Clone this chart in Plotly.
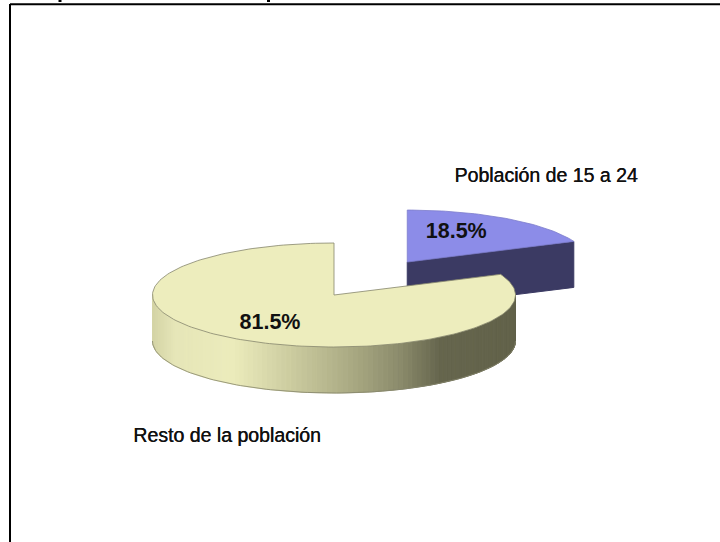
import numpy as np
import plotly.graph_objects as go

# data
labels = ["Población de 15 a 24", "Resto de la población"]
shares = [18.5, 81.5]

# pie geometry, in pixels (the axes below run 1 unit = 1 px)
CX, CY = 334.0, 295.0
RX, RY = 181.5, 52.0
DEPTH = 46.0
EXPLODE = 0.735
LIFT = 1.0

TOP_SMALL = "#8C8CE8"
SIDE_SMALL = "#3B3A63"
TOP_BIG = "#EDEDBD"
EDGE = "#85856C"

# wall shading of the big slice: position across the pie (0..1) => colour
wall_pos = [0.0, 0.06, 0.22, 0.38, 0.52, 0.68, 0.79, 1.0]
wall_rgb = [(212, 212, 166), (230, 230, 184), (236, 236, 188), (204, 204, 160),
            (176, 176, 136), (140, 140, 108), (102, 102, 78), (98, 98, 74)]


def ellipse(theta, cx, cy):
    # theta in degrees, clockwise from 12 o'clock
    t = np.radians(theta)
    return cx + RX * np.sin(t), cy - RY * np.cos(t)


def poly(x, y, fill, line=None, width=1):
    return go.Scatter(x=list(x) + [x[0]], y=list(y) + [y[0]], mode="lines", fill="toself",
                      fillcolor=fill, line=dict(color=line or fill, width=width),
                      hoverinfo="skip", showlegend=False)


def wall_color(x):
    p = (x - (CX - RX)) / (2 * RX)
    rgb = [np.interp(p, wall_pos, [c[i] for c in wall_rgb]) for i in range(3)]
    return "rgb(%d,%d,%d)" % tuple(rgb)


fig = go.Figure()

split = shares[0] / sum(shares) * 360

# exploded slice, moved out along its middle angle
mid = split / 2
sx = CX + EXPLODE * RX * np.sin(np.radians(mid))
sy = CY - EXPLODE * RY * np.cos(np.radians(mid)) - LIFT
ex, ey = ellipse(split, sx, sy)
fig.add_trace(poly([sx, ex, ex, sx], [sy, ey, ey + DEPTH, sy + DEPTH], SIDE_SMALL))
arc = np.linspace(0, split, 50)
ax, ay = ellipse(arc, sx, sy)
fig.add_trace(poly([sx, *ax], [sy, *ay], TOP_SMALL, "#7C7CCC", 0.8))

# big slice wall: thin strips so the shading can change along the rim
front = np.linspace(split, 360, 181)
for a0, a1 in zip(front[:-1], front[1:]):
    # only the near half of the rim shows
    if np.cos(np.radians((a0 + a1) / 2)) > 0.02:
        continue
    x0, y0 = ellipse(a0, CX, CY)
    x1, y1 = ellipse(a1, CX, CY)
    fig.add_trace(poly([x0, x1, x1, x0], [y0, y1, y1 + DEPTH, y0 + DEPTH],
                       wall_color((x0 + x1) / 2)))

# rim outline of the wall
rim = np.linspace(90, 270, 120)
rx_, ry_ = ellipse(rim, CX, CY + DEPTH)
fig.add_trace(go.Scatter(x=rx_, y=ry_, mode="lines", line=dict(color=EDGE, width=0.8),
                         hoverinfo="skip", showlegend=False))

# big slice top
arc = np.linspace(split, 360, 200)
ax, ay = ellipse(arc, CX, CY)
fig.add_trace(poly([CX, *ax], [CY, *ay], TOP_BIG, EDGE, 0.8))

# percentage labels
fig.add_trace(go.Scatter(x=[sx + 49, CX - 64], y=[sy - 29, CY + 29], mode="text",
                         text=["%.1f%%" % s for s in shares],
                         textfont=dict(family="Liberation Sans", size=21.5, color="#111111", weight="bold"),
                         textposition="middle center", hoverinfo="skip", showlegend=False))

# category labels: regular weight thickened a little, the original is a soft semi-bold
fig.add_trace(go.Scatter(x=[546, 227], y=[177, 437], mode="text", text=labels,
                         textfont=dict(family="Liberation Sans", size=19.5, color="#111111",
                                       shadow="0.4px 0 0 #111111"),
                         textposition="middle center", hoverinfo="skip", showlegend=False))

fig.update_layout(
    width=720, height=542, margin=dict(l=0, r=0, t=0, b=0),
    paper_bgcolor="white", plot_bgcolor="white", showlegend=False,
    xaxis=dict(range=[0, 720], visible=False, fixedrange=True),
    yaxis=dict(range=[542, 0], visible=False, fixedrange=True),
    shapes=[
        # slide frame, top and left only
        dict(type="line", x0=10, x1=720, y0=4.3, y1=4.3, line=dict(color="black", width=2)),
        dict(type="line", x0=10, x1=10, y0=4, y1=542, line=dict(color="black", width=2)),
        # descenders of the cropped heading
        dict(type="rect", x0=58.5, x1=61.5, y0=0, y1=2, fillcolor="black", line_width=0),
        dict(type="rect", x0=267, x1=270, y0=0, y1=2, fillcolor="black", line_width=0),
    ],
)

# page default margin would push the plot 8 px in
fig.write_html("out.html", config=dict(displayModeBar=False),
               post_script="document.body.style.margin='0';document.body.style.overflow='hidden';")
